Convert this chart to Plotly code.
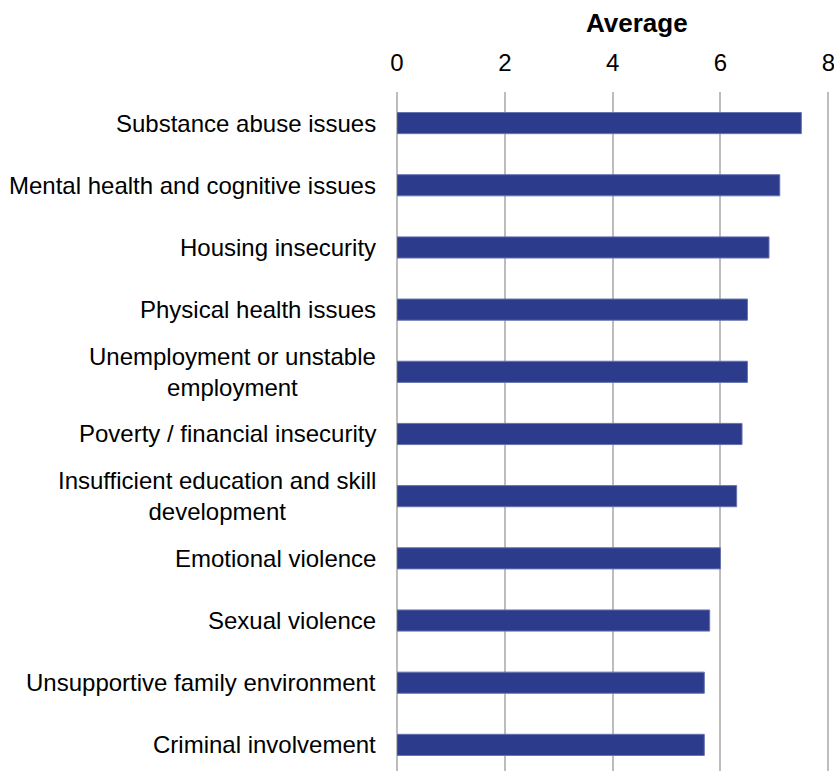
import plotly.graph_objects as go

# Barriers, ordered top to bottom
categories = [
    "Substance abuse issues",
    "Mental health and cognitive issues",
    "Housing insecurity",
    "Physical health issues",
    "Unemployment or unstable<br>employment",
    "Poverty / financial insecurity",
    "Insufficient education and skill<br>development",
    "Emotional violence",
    "Sexual violence",
    "Unsupportive family environment",
    "Criminal involvement",
]
averages = [7.5, 7.1, 6.9, 6.5, 6.5, 6.4, 6.3, 6.0, 5.8, 5.7, 5.7]
x_ticks = [0, 2, 4, 6, 8]

FONT = "Liberation Sans, Arial, sans-serif"
BAR = "#2c3b8b"
GRID = "#bdbdbd"

fig = go.Figure(
    go.Bar(
        x=averages,
        y=categories,
        orientation="h",
        marker=dict(color=BAR, line=dict(color="#6673b0", width=1)),
        width=0.34,
        hoverinfo="x+y",
    )
)

# category labels, right-aligned to the plot edge but centred line by line
for cat in categories:
    fig.add_annotation(
        x=0, xref="paper", xanchor="right", xshift=-19,
        y=cat, yref="y", yanchor="middle",
        text=cat, showarrow=False, align="center",
        font=dict(family=FONT, size=24, color="#000000"),
    )

fig.update_layout(
    width=834,
    height=771,
    margin=dict(l=397, r=3, t=92, b=0),
    paper_bgcolor="white",
    plot_bgcolor="white",
    showlegend=False,
    font=dict(family=FONT, size=24, color="#000000"),
    xaxis=dict(
        side="top",
        range=[0, 8.05],
        tickvals=x_ticks,
        ticktext=[str(v) for v in x_ticks],
        showgrid=True,
        gridcolor=GRID,
        gridwidth=1.5,
        zeroline=True,
        zerolinecolor=GRID,
        zerolinewidth=1.5,
        showline=False,
        ticks="",
        ticklabelstandoff=15,
        ticklabeloverflow="allow",
        tickfont=dict(family=FONT, size=24, color="#000000"),
    ),
    yaxis=dict(
        type="category",
        range=[10.42, -0.5],
        showticklabels=False,
        showgrid=False,
        zeroline=False,
        showline=False,
        ticks="",
    ),
)

# axis title above the tick numbers
fig.add_annotation(
    x=0.554, xref="paper", xanchor="center",
    y=1, yref="paper", yanchor="bottom", yshift=52,
    text="<b>Average</b>", showarrow=False,
    font=dict(family=FONT, size=26, color="#000000"),
)

fig.write_html("out.html")
